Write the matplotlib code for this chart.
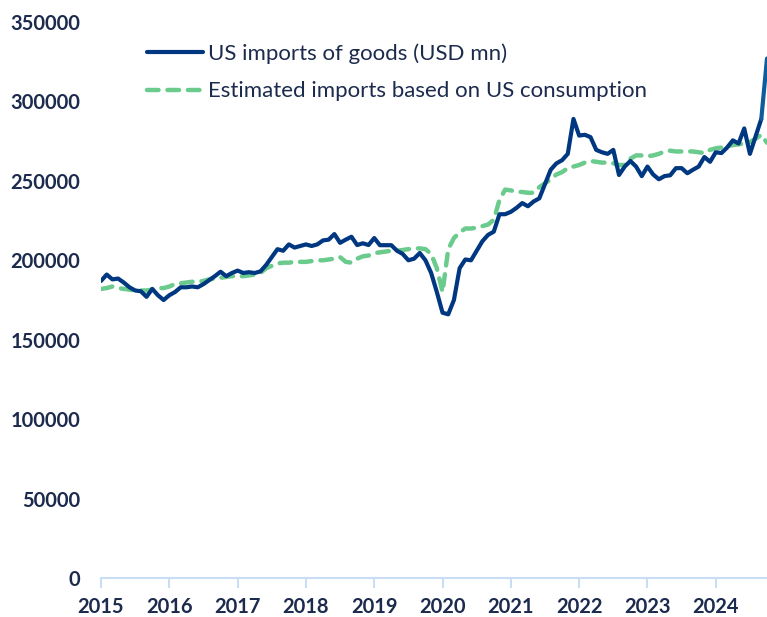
import numpy as np
import matplotlib
matplotlib.use("Agg")
import matplotlib.pyplot as plt

# monthly series, USD mn, first point ~Apr 2015
us_imports = [
    187000, 191000, 188000, 188500, 186000, 183000, 181000, 180500, 177000, 182000,
    178000, 175000, 178000, 180000, 183000, 183000, 183500, 183000, 185000, 187500,
    190000, 192800, 190000, 192000, 193500, 192000, 192500, 192000, 193000, 197000,
    202000, 207000, 206000, 210000, 208000, 209000, 210000, 209000, 210000, 212500,
    213000, 216500, 211000, 213000, 214800, 209600, 210700, 209600, 214000, 209500,
    209500, 209500, 206000, 204000, 200000, 201000, 204600, 200000, 192000, 180000,
    167000, 166000, 175000, 195000, 200500, 200000, 206000, 212000, 216000, 218000,
    229000, 229000, 230500, 233000, 236000, 234000, 237000, 239000, 248000, 257000,
    261000, 263000, 267000, 289000, 278500, 279000, 277500, 269500, 268000, 267000,
    269500, 253700, 259000, 262500, 259000, 253000, 259000, 254000, 251000, 253000,
    253500, 258000, 258000, 254800, 257000, 259000, 265000, 262000, 268000, 267500,
    271000, 275500, 273500, 283000, 267000, 278000, 289000, 327000,
]
est_imports = [
    182000, 182500, 183500, 182500, 182000, 181500, 181000, 181000, 181000, 181500,
    182500, 182500, 183500, 185000, 185500, 186000, 186500, 186500, 187000, 188000,
    188500, 189000, 189500, 190000, 190000, 190000, 190500, 191000, 192000, 195000,
    196500, 198000, 198500, 198500, 199000, 199000, 199000, 199500, 200000, 200000,
    200500, 201000, 202000, 199000, 198500, 201000, 202500, 203000, 204500, 205000,
    205500, 206000, 206000, 206500, 207000, 207500, 207500, 207000, 204000, 195000,
    180000, 207000, 214000, 217500, 220000, 220000, 220500, 221500, 222500, 225500,
    238000, 244500, 244000, 243000, 243000, 242500, 242500, 246000, 248500, 251000,
    254000, 255500, 258000, 259000, 260000, 261500, 262500, 262000, 261500, 261500,
    261000, 260000, 260000, 264000, 266000, 266000, 265500, 266000, 267000, 268500,
    269000, 268500, 268500, 268500, 268500, 268000, 267500, 269500, 270500, 271000,
    272000, 272500, 273000, 273500, 274500, 276500, 279000, 274000,
]
year_labels = ["2015", "2016", "2017", "2018", "2019", "2020", "2021", "2022", "2023", "2024"]

navy = "#003781"
green = "#6acb8c"
text_col = "#1c2b4d"
axis_col = "#c9ddf3"

plt.rcParams['font.family'] = ['Lato', 'DejaVu Sans']

x = np.arange(len(us_imports))

fig = plt.figure(figsize=(7.67, 6.17), dpi=100)
ax = fig.add_axes([101 / 767, 1 - 578 / 617, (767 - 101) / 767, (578 - 22) / 617])

ax.plot(x[:-1], us_imports[:-1], color=navy, lw=3.0, solid_joinstyle='round',
        solid_capstyle='round', label="US imports of goods (USD mn)", zorder=3)
# last month drawn in a lighter blue as in the original
ax.plot(x[-2:], us_imports[-2:], color="#0f5c9c", lw=3.0, solid_capstyle='round', zorder=3)
ax.plot(x, est_imports, color=green, lw=3.2, dashes=(2.6, 2.0), dash_capstyle='round',
        label="Estimated imports based on US consumption", zorder=2)

ax.set_xlim(0, len(us_imports) - 1)
ax.set_ylim(0, 350000)
ax.set_yticks(np.arange(0, 350001, 50000))
ax.set_yticklabels([str(v) for v in range(0, 350001, 50000)])
ax.set_xticks(np.arange(0, 12 * len(year_labels), 12))
ax.set_xticklabels(year_labels)

for s in ["top", "right", "left"]:
    ax.spines[s].set_visible(False)
ax.spines["bottom"].set_color(axis_col)
ax.spines["bottom"].set_linewidth(1.5)
ax.spines["bottom"].set_clip_on(False)

ax.tick_params(axis="y", length=0, pad=15, labelsize=14.5, labelcolor=text_col)
ax.tick_params(axis="x", length=7, width=1.5, color=axis_col, pad=7,
               labelsize=14.5, labelcolor=text_col)
for lab in ax.get_xticklabels() + ax.get_yticklabels():
    lab.set_fontweight("bold")

leg = ax.legend(loc="upper left", bbox_to_anchor=((147 - 101) / 666, (578 - 43) / 556),
                frameon=False, borderpad=0, borderaxespad=0,
                fontsize=16, handlelength=2.5, handletextpad=0.25, labelspacing=0.8,
                labelcolor=text_col)

fig.savefig("out.png", dpi=100)
